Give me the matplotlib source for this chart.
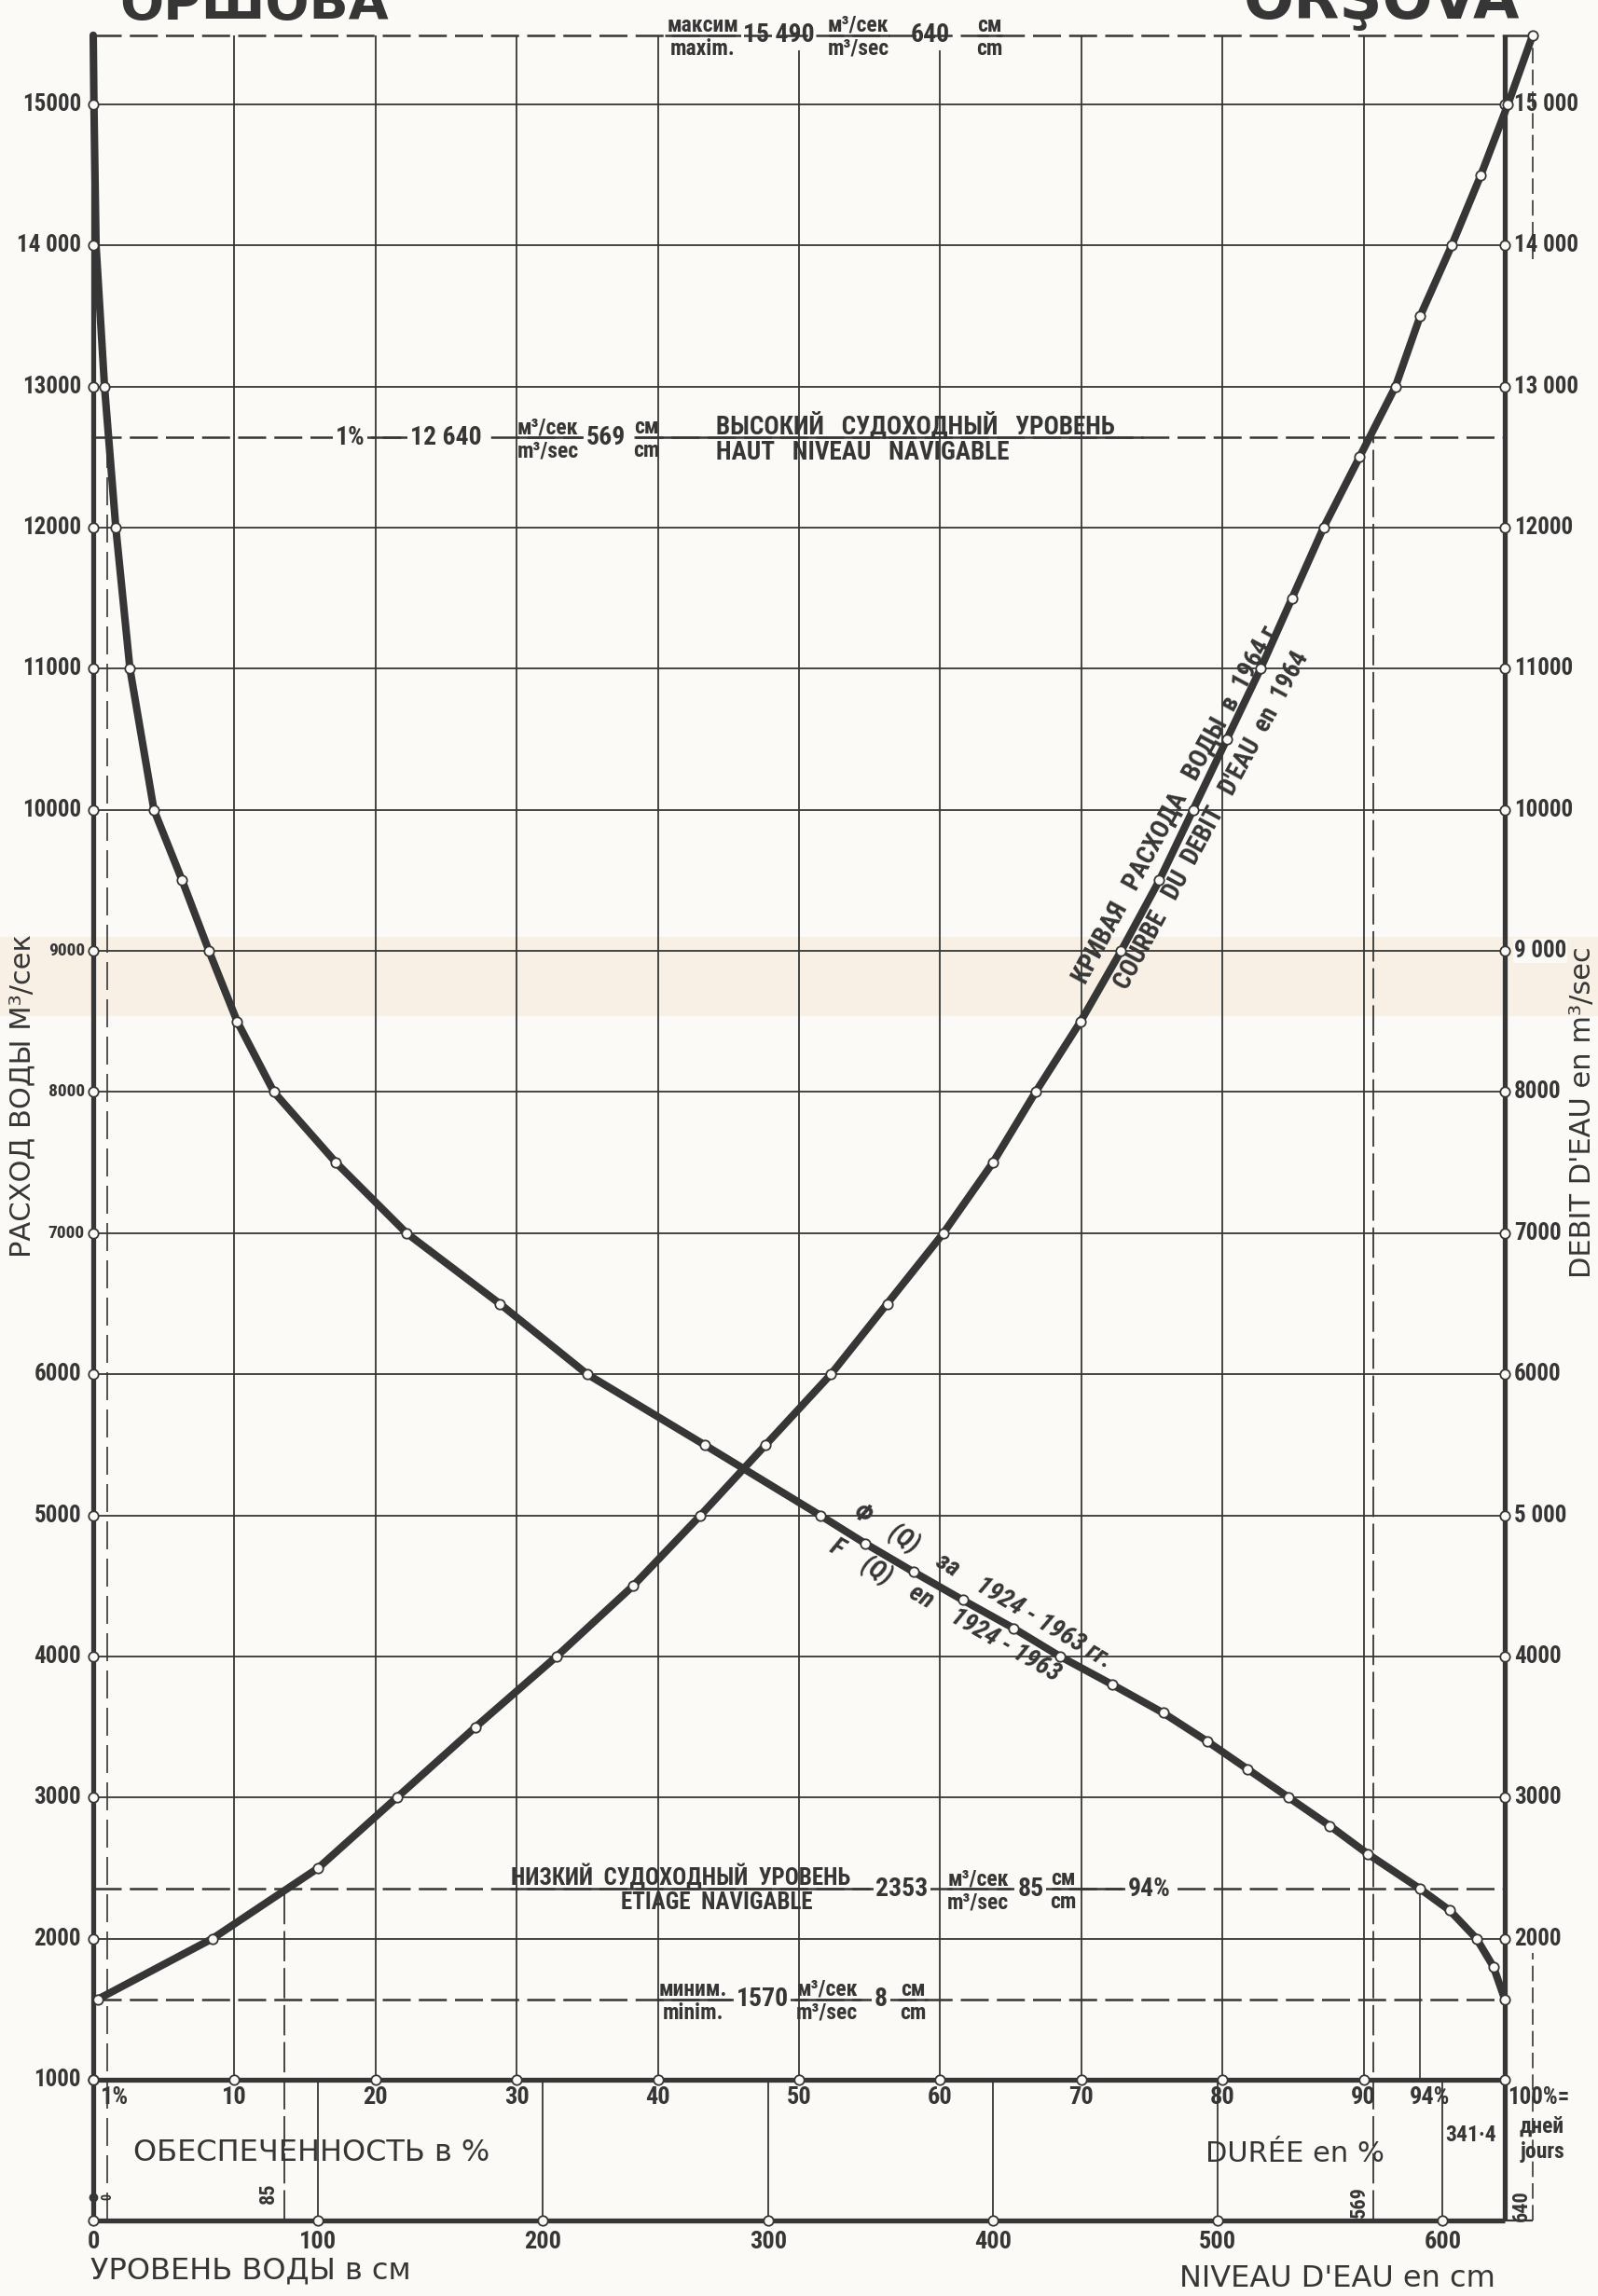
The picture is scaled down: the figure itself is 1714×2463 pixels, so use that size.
import matplotlib.pyplot as plt

# duration curve F(Q) 1924-1963: discharge (m3/s) vs % of time exceeded
dur_q = [15490, 15000, 14000, 13000, 12000, 11000, 10000, 9500, 9000, 8500, 8000,
         7500, 7000, 6500, 6000, 5500, 5000, 4800, 4600, 4400, 4200, 4000, 3800,
         3600, 3400, 3200, 3000, 2800, 2600, 2353, 2200, 2000, 1800, 1570]
dur_pct = [0.0, 0.05, 0.2, 0.8, 1.6, 2.6, 4.3, 6.3, 8.2, 10.2, 12.8,
           17.2, 22.2, 28.8, 35.0, 43.3, 51.5, 54.7, 58.1, 61.6, 65.2, 68.5, 72.2,
           75.8, 78.9, 81.8, 84.7, 87.6, 90.3, 94.0, 96.1, 98.0, 99.2, 100.0]

# rating curve 1964: discharge (m3/s) vs water level (cm)
rat_q = [1570, 2000, 2500, 3000, 3500, 4000, 4500, 5000, 5500, 6000, 6500, 7000,
         7500, 8000, 8500, 9000, 9500, 10000, 10500, 11000, 11500, 12000, 12500,
         13000, 13500, 14000, 14500, 15000, 15490]
rat_cm = [2, 53, 100, 135, 170, 206, 240, 270, 299, 328, 353, 378,
          400, 419, 439, 457, 474, 489, 504, 519, 533, 547, 563,
          579, 590, 604, 617, 629, 640]

q_ticks = [1000, 2000, 3000, 4000, 5000, 6000, 7000, 8000, 9000, 10000,
           11000, 12000, 13000, 14000, 15000]
q_left = ["1000", "2000", "3000", "4000", "5000", "6000", "7000", "8000", "9000",
          "10000", "11000", "12000", "13000", "14 000", "15000"]
q_right = ["", "2000", "3000", "4000", "5 000", "6000", "7000", "8000", "9 000",
           "10000", "11000", "12000", "13 000", "14 000", "15 000"]
pct_ticks = [10, 20, 30, 40, 50, 60, 70, 80, 90]
cm_ticks = [0, 100, 200, 300, 400, 500, 600]

# characteristic levels
q_max, cm_max = 15490, 640
q_high, cm_high, pct_high = 12640, 569, 1
q_low, cm_low, pct_low = 2353, 85, 94
q_min, cm_min = 1570, 8
days = "341·4"

BG = '#fbfaf6'
INK = '#363636'
NARROW = ['Roboto Condensed', 'Roboto', 'DejaVu Sans']
SANS = ['DejaVu Sans']
CM_FULL = 627.6          # level (cm) that sits under 100 %
DASH = (0, (12, 3.5))
NUM, FR, LAB = 20, 17, 19.5

W, H = 1715, 2463
fig = plt.figure(figsize=(W / 100, H / 100), dpi=100, facecolor=BG)
ax = fig.add_axes([100 / W, 1 - 2231 / H, 1514 / W, (2231 - 37.8) / H])
ax.set_xlim(0, 100)
ax.set_ylim(1000, q_max)
ax.axis('off')
lv = ax.twiny()
lv.set_xlim(0, CM_FULL)
lv.axis('off')

# faint discoloured band of the paper
fig.add_artist(plt.Rectangle((0, 1 - 1090 / H), 1, 85 / H, transform=fig.transFigure,
                             color='#f5e3cc', alpha=0.4, zorder=-5, lw=0))


def line(a, xs, ys, lw=1.3, ls='-', z=2):
    a.plot(xs, ys, color=INK, lw=lw, ls=ls, clip_on=False, zorder=z,
           solid_capstyle='butt', dash_capstyle='butt')


def txt(a, x, y, s, size=18, fam=NARROW, weight='bold', z=6, mask=False, **kw):
    kw.setdefault('ha', 'center')
    kw.setdefault('va', 'center')
    if mask:
        kw['bbox'] = dict(boxstyle='square,pad=0.1', fc=BG, ec='none')
    return a.text(x, y, s, fontsize=size, family=fam, weight=weight, color=INK,
                  clip_on=False, zorder=z, **kw)


def frac(x, q, top, bot, size=FR):
    ax.annotate(top, (x, q), xytext=(0, 4), textcoords='offset pixels', ha='center',
                va='baseline', fontsize=size, family=NARROW, weight='bold', color=INK, zorder=6)
    ax.annotate(bot, (x, q), xytext=(0, -3), textcoords='offset pixels', ha='center',
                va='top', fontsize=size, family=NARROW, weight='bold', color=INK, zorder=6)


def circles(a, xs, ys, ms=7.5):
    a.plot(xs, ys, 'o', ms=ms, mfc=BG, mec=INK, mew=1.3, clip_on=False, zorder=7, ls='none')


# grid
for p in pct_ticks:
    line(ax, [p, p], [1000, q_max])
for q in q_ticks[1:]:
    line(ax, [0, 100], [q, q])
for h in cm_ticks[1:]:
    line(lv, [h, h], [0, 1000])

# frame
line(ax, [0, 0], [0, q_max], lw=3.8, z=3)
line(ax, [100, 100], [0, q_max], lw=3.8, z=3)
line(ax, [0, 100], [1000, 1000], lw=3.8, z=3)
line(ax, [0, 100], [0, 0], lw=3.8, z=3)
line(lv, [CM_FULL, cm_max], [0, 0], lw=1.6)
line(lv, [cm_max, cm_max], [0, 1900], lw=1.2, ls=(0, (10, 4)))
line(lv, [cm_max, cm_max], [13900, q_max], lw=1.2, ls=(0, (10, 4)))

# characteristic verticals
line(ax, [pct_high, pct_high], [0, q_high], lw=1.2, ls=(0, (18, 6)))
line(lv, [cm_low, cm_low], [0, q_low], lw=1.3, ls=(0, (18, 4)))
line(lv, [cm_high, cm_high], [0, q_high], lw=1.3, ls=(0, (18, 4)))
line(ax, [pct_low, pct_low], [1000, q_low], lw=1.2)

# horizontal characteristic lines
line(lv, [0, cm_max], [q_max, q_max], lw=1.8, ls=DASH)
line(ax, [0, 100], [q_high, q_high], lw=1.8, ls=DASH)
line(ax, [0, 100], [q_low, q_low], lw=1.8, ls=DASH)
line(ax, [0, 100], [q_min, q_min], lw=1.8, ls=DASH)
for a, b, q in [(40.5, 45.9, q_max), (52.1, 56.4, q_max), (62.6, 64.4, q_max),
                (19.7, 21.8, q_high), (30.0, 34.6, q_high), (38.3, 74.4, q_high),
                (29.5, 55.0, q_low), (60.5, 65.0, q_low), (67.9, 72.9, q_low),
                (39.9, 45.2, q_min), (49.7, 54.4, q_min), (57.0, 59.1, q_min)]:
    line(ax, [a, b], [q, q], lw=1.8, z=2.5)

# curves
ax.plot(dur_pct, dur_q, color=INK, lw=5.8, clip_on=False, zorder=4, solid_capstyle='round')
lv.plot(rat_cm, rat_q, color=INK, lw=5.8, clip_on=False, zorder=4, solid_capstyle='round')
circles(ax, dur_pct[3:], dur_q[3:])
circles(lv, rat_cm, rat_q)
circles(ax, [0] * len(q_ticks), q_ticks)
circles(ax, [100] * (len(q_ticks) - 1), q_ticks[1:])
circles(ax, [0] + pct_ticks + [100], [1000] * (len(pct_ticks) + 2))
circles(lv, cm_ticks, [0] * len(cm_ticks))
ax.plot([0], [170], 'o', ms=6, color=INK, clip_on=False, zorder=7)
txt(ax, 1.0, 170, "0", size=10, rotation=90)

# tick labels
for q, s in zip(q_ticks, q_left):
    small = q in (7000, 8000, 9000)
    ax.annotate(s, (0, q), xytext=(-9 if small else -13, 0), textcoords='offset pixels',
                ha='right', va='center', fontsize=14 if small else 18, family=NARROW,
                weight='bold', color=INK)
for q, s in zip(q_ticks[1:], q_right[1:]):
    ax.annotate(s, (100, q), xytext=(10, 0), textcoords='offset pixels', ha='left',
                va='center', fontsize=18, family=NARROW, weight='bold', color=INK,
                bbox=dict(boxstyle='square,pad=0.05', fc=BG, ec='none'))
for p in pct_ticks:
    txt(ax, p, 875, str(p), size=19)
txt(ax, 1.5, 875, "1%", size=19)
txt(ax, 94.7, 875, "94%", size=19)
txt(ax, 100.2, 875, "100%=", size=18, ha='left')
txt(ax, 102.6, 670, "дней", size=17)
txt(ax, 102.7, 491, "jours", size=17)
txt(ax, 97.6, 610, days, size=17)
for h in cm_ticks:
    txt(lv, h, -150, str(h), size=19)
txt(lv, cm_max - 5, 108, str(cm_max), size=16, rotation=90)
txt(lv, cm_high - 6, 135, str(cm_high), size=16, rotation=90)
txt(lv, cm_low - 7, 194, str(cm_low), size=16, rotation=90)

# axis titles
txt(ax, 2.85, 480, "ОБЕСПЕЧЕННОСТЬ в %", size=23, fam=SANS, weight='normal', ha='left')
txt(ax, 78.8, 478, "DURÉE en %", size=22, fam=SANS, weight='normal', ha='left')
txt(ax, -0.2, -354, "УРОВЕНЬ ВОДЫ в см", size=23, fam=SANS, weight='normal', ha='left')
txt(ax, 99.3, -413, "NIVEAU D'EAU en cm", size=23, fam=SANS, weight='normal', ha='right')
txt(ax, -5.0, 7970, "РАСХОД ВОДЫ М³/сек", size=22, fam=SANS, weight='normal', rotation=90)
txt(ax, 105.5, 7858, "DEBIT D'EAU en m³/sec", size=22, fam=SANS, weight='normal', rotation=90)

# station names (cut by the top edge of the sheet)
fig.text(128 / W, 1 - 20 / H, "ОРШОВА", fontsize=40, family=SANS, weight='bold',
         color=INK, ha='left', va='baseline')
fig.text(1630 / W, 1 - 20 / H, "ORŞOVA", fontsize=46, family=SANS, weight='bold',
         color=INK, ha='right', va='baseline')

# maximum
frac(43.2, q_max, "максим", "maxim.")
txt(ax, 48.6, q_max, "15 490", size=NUM, mask=True)
frac(54.2, q_max, "м³/сек", "m³/sec")
txt(ax, 59.3, q_max, str(cm_max), size=NUM, mask=True)
frac(63.5, q_max, "см", "cm")

# high navigable level
txt(ax, 18.2, q_high, "1%", size=NUM, mask=True)
txt(ax, 25.0, q_high, "12 640", size=NUM, mask=True)
frac(32.2, q_high, "м³/сек", "m³/sec")
txt(ax, 36.3, q_high, str(cm_high), size=NUM, mask=True)
frac(39.2, q_high, "см", "cm")
ax.annotate("ВЫСОКИЙ   СУДОХОДНЫЙ   УРОВЕНЬ", (44.1, q_high), xytext=(0, 4),
            textcoords='offset pixels', ha='left', va='baseline', fontsize=LAB,
            family=NARROW, weight='bold', color=INK)
ax.annotate("HAUT   NIVEAU   NAVIGABLE", (44.1, q_high), xytext=(0, -3),
            textcoords='offset pixels', ha='left', va='top', fontsize=LAB,
            family=NARROW, weight='bold', color=INK)

# low navigable level
ax.annotate("НИЗКИЙ  СУДОХОДНЫЙ  УРОВЕНЬ", (29.6, q_low), xytext=(0, 4),
            textcoords='offset pixels', ha='left', va='baseline', fontsize=18,
            family=NARROW, weight='bold', color=INK)
ax.annotate("ETIAGE  NAVIGABLE", (44.2, q_low), xytext=(0, -3),
            textcoords='offset pixels', ha='center', va='top', fontsize=18,
            family=NARROW, weight='bold', color=INK)
txt(ax, 57.3, q_low, str(q_low), size=NUM, mask=True)
frac(62.7, q_low, "м³/сек", "m³/sec")
txt(ax, 66.4, q_low, str(cm_low), size=NUM, mask=True)
frac(68.7, q_low, "см", "cm")
txt(ax, 74.8, q_low, f"{pct_low}%", size=NUM, mask=True)

# minimum
frac(42.5, q_min, "миним.", "minim.")
txt(ax, 47.4, q_min, str(q_min), size=NUM, mask=True)
frac(52.0, q_min, "м³/сек", "m³/sec")
txt(ax, 55.8, q_min, str(cm_min), size=NUM, mask=True)
frac(58.1, q_min, "см", "cm")

# curve names
lv.annotate("КРИВАЯ   РАСХОДА   ВОДЫ  в  1964 г.", (489, 10000), xytext=(-17, 9),
            textcoords='offset pixels', rotation=61.5, rotation_mode='anchor',
            ha='center', va='center', fontsize=20, family=NARROW, weight='bold', color=INK)
lv.annotate("COURBE   DU  DEBIT   D'EAU  en  1964", (489, 10000), xytext=(20, -11),
            textcoords='offset pixels', rotation=61.5, rotation_mode='anchor',
            ha='center', va='center', fontsize=19.5, family=NARROW, weight='bold', color=INK)
ax.annotate("Φ    (Q)    за    1924 - 1963 гг.", (62.3, 4360), xytext=(11, 20),
            textcoords='offset pixels', rotation=-31, rotation_mode='anchor',
            ha='center', va='center', fontsize=20, family=NARROW, weight='bold',
            style='italic', color=INK)
ax.annotate("F    (Q)    en    1924 - 1963", (61.0, 4440), xytext=(-10, -18),
            textcoords='offset pixels', rotation=-30, rotation_mode='anchor',
            ha='center', va='center', fontsize=20, family=NARROW, weight='bold',
            style='italic', color=INK)

fig.savefig('out.png', dpi=100, facecolor=BG)
